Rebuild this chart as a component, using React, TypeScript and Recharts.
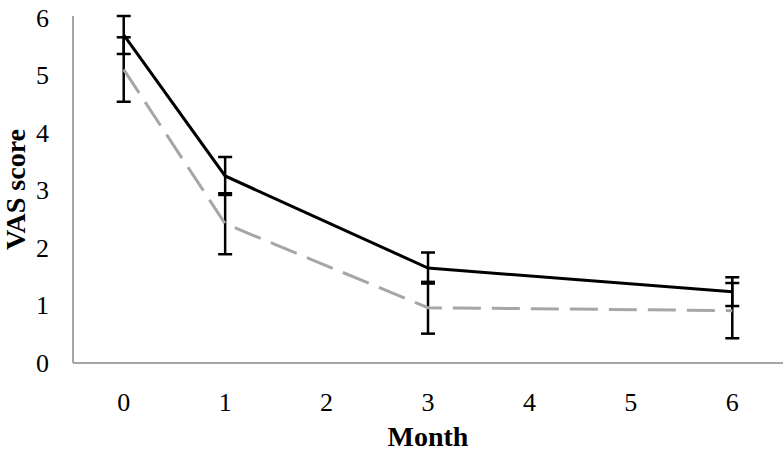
import React from 'react';
import { LineChart, Line, XAxis, YAxis, ErrorBar } from 'recharts';

const months = [0, 1, 3, 6];
const seriesA = [5.7, 3.25, 1.65, 1.24];
const seriesAErr = [0.33, 0.33, 0.27, 0.25];
const seriesB = [5.1, 2.42, 0.96, 0.91];
const seriesBErr = [0.56, 0.53, 0.45, 0.48];
const xTicks = [0, 1, 2, 3, 4, 5, 6];
const yTicks = [0, 1, 2, 3, 4, 5, 6];

const data = months.map((m, i) => ({
  month: m,
  a: seriesA[i],
  aErr: seriesAErr[i],
  b: seriesB[i],
  bErr: seriesBErr[i],
}));

const FONT = '"Liberation Serif", "Times New Roman", serif';

const XTick = (props: any) => {
  const { x, y, payload } = props;
  return (
    <text x={x} y={y + 48} textAnchor="middle" style={{ fontFamily: FONT, fontSize: 26 }} fill="#000">
      {payload.value}
    </text>
  );
};

const YTick = (props: any) => {
  const { x, y, payload } = props;
  return (
    <text x={x - 24} y={y + 9} textAnchor="end" style={{ fontFamily: FONT, fontSize: 26 }} fill="#000">
      {payload.value}
    </text>
  );
};

const YTitle = (props: any) => {
  const vb = props.viewBox || { x: 0, y: 16, width: 73, height: 347 };
  const cx = 25;
  const cy = vb.y + vb.height / 2;
  return (
    <text
      x={cx}
      y={cy}
      transform={`rotate(-90 ${cx} ${cy})`}
      textAnchor="middle"
      style={{ fontFamily: FONT, fontSize: 28, fontWeight: 'bold' }}
      fill="#000"
    >
      VAS score
    </text>
  );
};

const XTitle = (props: any) => {
  const vb = props.viewBox || { x: 73, y: 363, width: 710, height: 91 };
  const cx = vb.x + vb.width / 2;
  return (
    <text x={cx} y={446} textAnchor="middle" style={{ fontFamily: FONT, fontSize: 28, fontWeight: 'bold' }} fill="#000">
      Month
    </text>
  );
};

export default function App() {
  return (
    <div style={{ position: 'absolute', left: 0, top: 0, width: 784, height: 454, background: '#fff' }}>
      <LineChart width={784} height={454} data={data} margin={{ top: 16, right: 1, bottom: 0, left: 0 }}>
        <XAxis
          dataKey="month"
          type="number"
          domain={[-0.5, 6.5]}
          ticks={xTicks}
          interval={0}
          height={91}
          tickLine={false}
          tickSize={0}
          tickMargin={0}
          axisLine={{ stroke: '#a6a6a6', strokeWidth: 2 }}
          tick={<XTick />}
          label={<XTitle />}
        />
        <YAxis
          type="number"
          domain={[0, 6]}
          ticks={yTicks}
          interval={0}
          width={73}
          tickLine={false}
          tickSize={0}
          tickMargin={0}
          axisLine={{ stroke: '#a6a6a6', strokeWidth: 2 }}
          tick={<YTick />}
          label={<YTitle />}
        />
        <Line
          dataKey="a"
          stroke="#000"
          strokeWidth={3}
          dot={false}
          isAnimationActive={false}
        >
          <ErrorBar dataKey="aErr" width={7} stroke="#000" strokeWidth={2.5} direction="y" />
        </Line>
        <Line
          dataKey="b"
          stroke="#a6a6a6"
          strokeWidth={3}
          strokeDasharray="28 11"
          dot={false}
          isAnimationActive={false}
        >
          <ErrorBar dataKey="bErr" width={7} stroke="#000" strokeWidth={2.5} direction="y" />
        </Line>
      </LineChart>
    </div>
  );
}
